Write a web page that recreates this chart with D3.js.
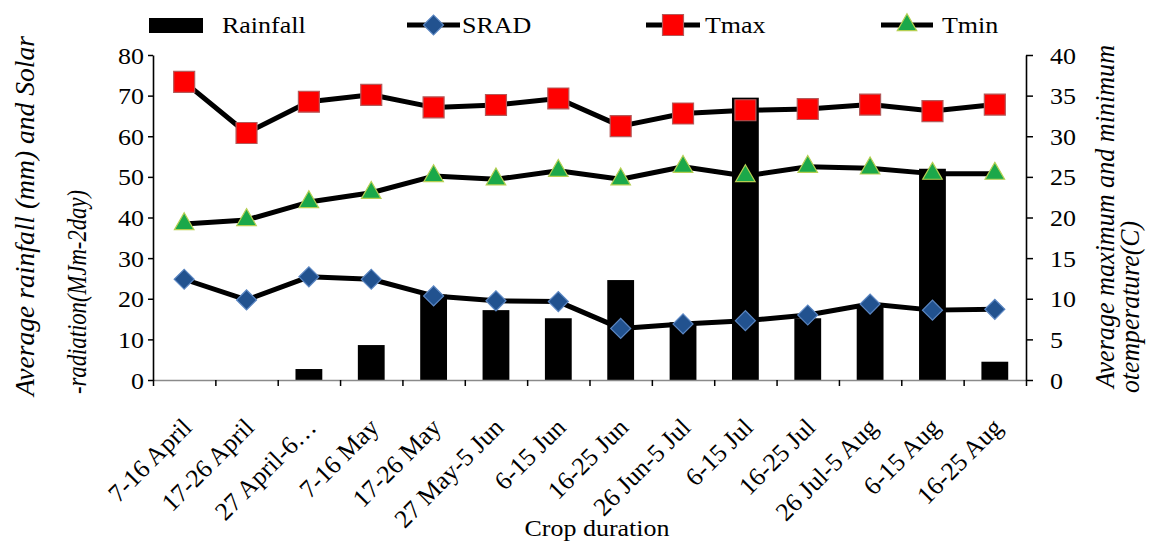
<!DOCTYPE html>
<html>
<head>
<meta charset="utf-8">
<script src="https://cdn.jsdelivr.net/npm/d3@7"></script>
<style>
  html, body { margin: 0; padding: 0; background: #fff; }
  svg { display: block; }
</style>
</head>
<body>
<script>
// ---------- data ----------
const categories = ["7-16 April", "17-26 April", "27 April-6\u2026", "7-16 May", "17-26 May",
  "27 May-5 Jun", "6-15 Jun", "16-25 Jun", "26 Jun-5 Jul", "6-15 Jul", "16-25 Jul",
  "26 Jul-5 Aug", "6-15 Aug", "16-25 Aug"];
const rainfall = [0, 0, 2.7, 8.6, 21, 17.2, 15.2, 24.6, 14.2, 69.5, 15.2, 18.5, 52, 4.5];
const srad = [24.8, 19.7, 25.4, 24.8, 20.7, 19.5, 19.3, 12.7, 13.8, 14.6, 16.0, 18.7, 17.2, 17.4];
const tmax = [36.7, 30.4, 34.25, 35.1, 33.55, 33.85, 34.65, 31.25, 32.8, 33.2, 33.35, 33.9, 33.1, 33.9];
const tmin = [19.2, 19.7, 21.9, 23.05, 25.1, 24.7, 25.75, 24.7, 26.25, 25.1, 26.25, 26.05, 25.4, 25.4];
const leftTicks = [0, 10, 20, 30, 40, 50, 60, 70, 80];
const rightTicks = [0, 5, 10, 15, 20, 25, 30, 35, 40];
const legendLabels = ["Rainfall", "SRAD", "Tmax", "Tmin"];
const leftTitle = ["Average rainfall (mm) and Solar", "-radiation(MJm-2day)"];
const rightTitle = ["Average maximum and minimum", "otemperature(C)"];
const xTitle = "Crop duration";

// ---------- setup ----------
const W = 1149, H = 542;
const SX = 1.13;               // horizontal stretch of the original raster
const FONT = "'Liberation Serif','Times New Roman',serif";
const FS = 23;
const plot = { left: 153, right: 1026, top: 55, bottom: 380 };

const svg = d3.select("body").append("svg").attr("width", W).attr("height", H)
  .style("font-family", FONT);

const x = d3.scaleBand().domain(categories).range([plot.left, plot.right]).padding(0);
const xEdge = d3.scaleLinear().domain([0, categories.length]).range([plot.left, plot.right]);
const yL = d3.scaleLinear().domain([0, 80]).range([plot.bottom, plot.top]);
const yR = d3.scaleLinear().domain([0, 40]).range([plot.bottom, plot.top]);
const bw = x.bandwidth();
const cx = c => x(c) + bw / 2;

// ---------- bars ----------
svg.append("g").selectAll("rect").data(categories.map((c, i) => ({ c, v: rainfall[i] })))
  .join("rect")
  .attr("x", d => x(d.c) + bw * 0.285)
  .attr("width", bw * 0.43)
  .attr("y", d => yL(d.v))
  .attr("height", d => yL(0) - yL(d.v))
  .attr("fill", "#000");

// ---------- axes ----------
const gx = svg.append("g").attr("transform", `translate(0,${plot.bottom})`)
  .call(d3.axisBottom(xEdge).tickValues(d3.range(0, categories.length + 1)).tickSize(6).tickSizeOuter(0).tickFormat(""));
gx.select(".domain").attr("stroke", "#8a8a8a").attr("stroke-width", 1.6);
gx.selectAll(".tick line").attr("stroke", "#000").attr("stroke-width", 1.5);

const gxl = svg.append("g").attr("transform", `translate(0,${plot.bottom})`)
  .call(d3.axisBottom(x).tickSize(0));
gxl.select(".domain").remove();
gxl.selectAll(".tick text")
  .attr("x", null).attr("y", null).attr("dy", null)
  .attr("text-anchor", "end")
  .attr("transform", `translate(9,49) rotate(-45)`)
  .style("font-family", FONT).style("font-size", "25.5px").attr("fill", "#000");

const gl = svg.append("g").attr("transform", `translate(${plot.left},0)`)
  .call(d3.axisLeft(yL).tickValues(leftTicks).tickSize(5).tickSizeOuter(0));
gl.select(".domain").attr("stroke", "#000").attr("stroke-width", 1.6);
gl.selectAll(".tick line").attr("stroke", "#000").attr("stroke-width", 1.5);
gl.selectAll(".tick text")
  .attr("x", null).attr("dy", "0.35em")
  .attr("text-anchor", "end")
  .attr("transform", `translate(-9,0) scale(${SX},1)`)
  .style("font-family", FONT).style("font-size", FS + "px").attr("fill", "#000");

const gr = svg.append("g").attr("transform", `translate(${plot.right},0)`)
  .call(d3.axisRight(yR).tickValues(rightTicks).tickSize(7).tickSizeOuter(0));
gr.select(".domain").attr("stroke", "#000").attr("stroke-width", 1.6);
gr.selectAll(".tick line").attr("stroke", "#000").attr("stroke-width", 1.5);
gr.selectAll(".tick text")
  .attr("x", null).attr("dy", "0.35em")
  .attr("text-anchor", "start")
  .attr("transform", `translate(24,0) scale(${SX},1)`)
  .style("font-family", FONT).style("font-size", FS + "px").attr("fill", "#000");

// ---------- lines ----------
function series(vals, yScale) {
  return categories.map((c, i) => ({ x: cx(c), y: yScale(vals[i]) }));
}
const line = d3.line().x(d => d.x).y(d => d.y);
const sSrad = series(srad, yL), sTmax = series(tmax, yR), sTmin = series(tmin, yR);
[sSrad, sTmin, sTmax].forEach(s => {
  svg.append("path").attr("d", line(s)).attr("fill", "none")
    .attr("stroke", "#000").attr("stroke-width", 5).attr("stroke-linejoin", "round");
});

const sym = {
  srad: { path: d3.symbol(d3.symbolSquare, 200)(), rot: 45, fill: "#22528f", stroke: "#5b86c2" },
  tmax: { path: d3.symbol(d3.symbolSquare, 440)(), rot: 0, fill: "#ff0000", stroke: "#b55a5a" },
  tmin: { path: d3.symbol(d3.symbolTriangle, 165)(), rot: 0, fill: "#1ba84a", stroke: "#b5cf52" }
};
function markers(s, m) {
  svg.append("g").selectAll("path").data(s).join("path")
    .attr("d", m.path)
    .attr("transform", d => `translate(${d.x},${d.y}) rotate(${m.rot})`)
    .attr("fill", m.fill).attr("stroke", m.stroke).attr("stroke-width", 1.2);
}
markers(sSrad, sym.srad);
markers(sTmin, sym.tmin);
markers(sTmax, sym.tmax);

// ---------- legend ----------
const ly = 25;
const lg = svg.append("g");
lg.append("rect").attr("x", 149).attr("y", 18).attr("width", 54).attr("height", 15).attr("fill", "#000");
const legItems = [
  { x1: 407, x2: 460, m: sym.srad },
  { x1: 646, x2: 700, m: sym.tmax },
  { x1: 881, x2: 933, m: sym.tmin }
];
legItems.forEach(it => {
  lg.append("line").attr("x1", it.x1).attr("x2", it.x2).attr("y1", ly).attr("y2", ly)
    .attr("stroke", "#000").attr("stroke-width", 5);
  lg.append("path").attr("d", it.m.path)
    .attr("transform", `translate(${(it.x1 + it.x2) / 2},${ly}) rotate(${it.m.rot})`)
    .attr("fill", it.m.fill).attr("stroke", it.m.stroke).attr("stroke-width", 1.2);
});
const legTextX = [222, 462, 705, 942];
legendLabels.forEach((t, i) => {
  lg.append("text").text(t)
    .attr("transform", `translate(${legTextX[i]},33) scale(${SX},1)`)
    .style("font-size", FS + "px").attr("fill", "#000");
});

// ---------- titles ----------
svg.append("text").text(xTitle)
  .attr("text-anchor", "middle")
  .attr("transform", `translate(597,536) scale(${SX},1)`)
  .style("font-size", FS + "px").attr("fill", "#000");

const titleFS = 25;
[[34, 396, 360, leftTitle[0]], [86, 394, 204, leftTitle[1]],
 [1114, 388, 343, rightTitle[0]], [1139, 393, 172, rightTitle[1]]].forEach(([bx, by, len, t]) => {
  svg.append("text").text(t)
    .attr("text-anchor", "start")
    .attr("textLength", len).attr("lengthAdjust", "spacingAndGlyphs")
    .attr("transform", `translate(${bx},${by}) scale(${SX},1) rotate(-90)`)
    .style("font-size", titleFS + "px").style("font-style", "italic").attr("fill", "#000");
});
</script>
</body>
</html>
